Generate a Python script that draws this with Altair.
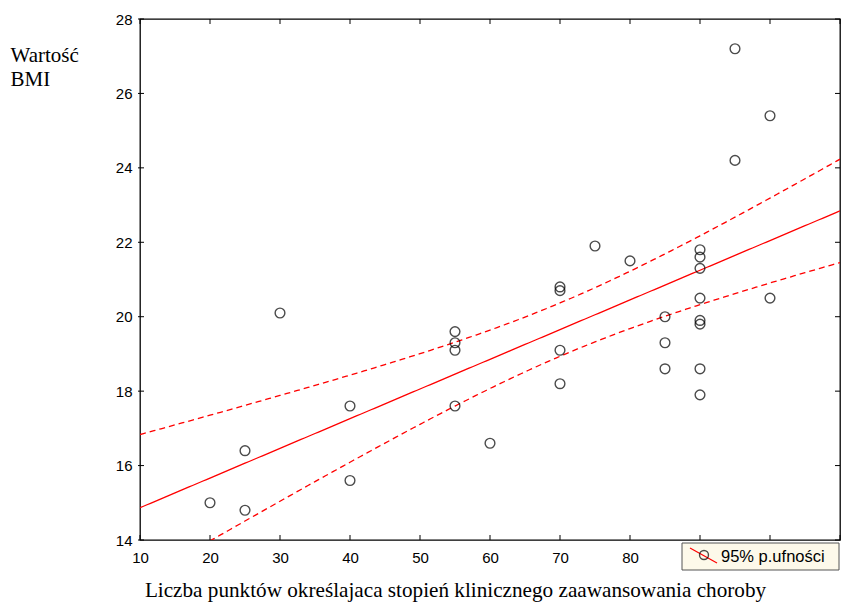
import altair as alt
import numpy as np
import pandas as pd

# ---- data ----
x_vals = [20, 25, 25, 30, 40, 40, 55, 55, 55, 55, 60, 70, 70, 70, 70, 75, 80,
          85, 85, 85, 90, 90, 90, 90, 90, 90, 90, 90, 95, 95, 100, 100]
y_vals = [15.0, 16.4, 14.8, 20.1, 17.6, 15.6, 19.6, 19.3, 19.1, 17.6, 16.6,
          20.8, 20.7, 19.1, 18.2, 21.9, 21.5, 20.0, 19.3, 18.6, 21.8, 21.6,
          21.3, 20.5, 19.9, 19.8, 18.6, 17.9, 27.2, 24.2, 25.4, 20.5]
x_ticks = [10, 20, 30, 40, 50, 60, 70, 80, 90, 100, 110]
x_labels = [10, 20, 30, 40, 50, 60, 70, 80]
y_ticks = [14, 16, 18, 20, 22, 24, 26, 28]
x_domain = [10, 110]
y_domain = [14, 28]
x_title = "Liczba punktów określajaca stopień klinicznego zaawansowania choroby"
y_title = ["Wartość", "BMI"]
legend_label = "95% p.ufności"
t_crit = 2.042  # t(0.975, df=30)

W, H = 700, 521

# ---- linear fit with 95% confidence band ----
xa = np.array(x_vals, dtype=float)
ya = np.array(y_vals, dtype=float)
n = len(xa)
b1, b0 = np.polyfit(xa, ya, 1)
resid = ya - (b0 + b1 * xa)
s = np.sqrt(np.sum(resid ** 2) / (n - 2))
sxx = np.sum((xa - xa.mean()) ** 2)
grid = np.linspace(x_domain[0], x_domain[1], 201)
fit = b0 + b1 * grid
se = s * np.sqrt(1.0 / n + (grid - xa.mean()) ** 2 / sxx)
fit_df = pd.DataFrame({"x": grid, "y": fit})
band_df = pd.concat([
    pd.DataFrame({"x": grid, "y": fit + t_crit * se, "band": "upper"}),
    pd.DataFrame({"x": grid, "y": fit - t_crit * se, "band": "lower"}),
])
pts = pd.DataFrame({"x": x_vals, "y": y_vals})

xs = alt.Scale(domain=x_domain, nice=False, zero=False)
ys = alt.Scale(domain=y_domain, nice=False, zero=False)

x_axis = alt.Axis(values=x_labels, ticks=False, domain=False, grid=False,
                  labelFlush=False,
                  labelFont="Liberation Sans", labelFontSize=15, labelColor="black",
                  labelPadding=10, title=x_title, titleFont="Liberation Serif",
                  titleFontSize=21.2, titleFontWeight="normal", titleColor="black",
                  titleX=315, titleY=56, titleAlign="center",
                  titleBaseline="alphabetic")
y_axis = alt.Axis(values=y_ticks, ticks=False, domain=False, grid=False,
                  labelFlush=False,
                  labelFont="Liberation Sans", labelFontSize=15, labelColor="black",
                  labelPadding=8, title=y_title, titleFont="Liberation Serif",
                  titleFontSize=21, titleFontWeight="normal", titleColor="black",
                  titleAngle=0, titleX=-130, titleY=42, titleAlign="left",
                  titleBaseline="alphabetic", titleLineHeight=24)

points = alt.Chart(pts).mark_point(
    shape="circle", filled=False, color="black", size=95, strokeWidth=1.4
).encode(
    x=alt.X("x:Q", scale=xs, axis=x_axis),
    y=alt.Y("y:Q", scale=ys, axis=y_axis),
)

fit_line = alt.Chart(fit_df).mark_line(color="#ff0000", strokeWidth=1.3, clip=True).encode(
    x=alt.X("x:Q", scale=xs), y=alt.Y("y:Q", scale=ys))

band_lines = alt.Chart(band_df).mark_line(
    color="#ff0000", strokeWidth=1.3, strokeDash=[6, 4], clip=True
).encode(x=alt.X("x:Q", scale=xs), y=alt.Y("y:Q", scale=ys), detail="band:N")

xt = pd.DataFrame({"v": x_ticks})
yt = pd.DataFrame({"v": y_ticks})
tick_style = dict(color="black", strokeWidth=1)
bottom_ticks = alt.Chart(xt).mark_rule(**tick_style).encode(
    x=alt.X("v:Q", scale=xs), y=alt.value(H), y2=alt.value(H - 5))
top_ticks = alt.Chart(xt).mark_rule(**tick_style).encode(
    x=alt.X("v:Q", scale=xs), y=alt.value(0), y2=alt.value(5))
left_ticks = alt.Chart(yt).mark_rule(**tick_style).encode(
    y=alt.Y("v:Q", scale=ys), x=alt.value(-2), x2=alt.value(4))
right_ticks = alt.Chart(yt).mark_rule(**tick_style).encode(
    y=alt.Y("v:Q", scale=ys), x=alt.value(W), x2=alt.value(W - 5))

one = pd.DataFrame({"a": [0]})
leg_box = alt.Chart(one).mark_rect(
    fill="#fdf9ea", stroke="#555555", strokeWidth=1, clip=False
).encode(x=alt.value(542), x2=alt.value(699), y=alt.value(524), y2=alt.value(551))
leg_line = alt.Chart(one).mark_rule(color="#ff0000", strokeWidth=1.2).encode(
    x=alt.value(550), x2=alt.value(577), y=alt.value(529), y2=alt.value(544))
leg_pt = alt.Chart(one).mark_point(
    shape="circle", filled=False, color="black", size=80, strokeWidth=1.4
).encode(x=alt.value(564), y=alt.value(536))
leg_txt = alt.Chart(one).mark_text(
    text=legend_label, align="left", baseline="alphabetic",
    font="Liberation Sans", fontSize=16.5, color="black"
).encode(x=alt.value(581), y=alt.value(543))

chart = alt.layer(
    band_lines, fit_line, points,
    bottom_ticks, top_ticks, left_ticks, right_ticks,
    leg_box, leg_line, leg_pt, leg_txt,
).properties(
    width=W, height=H,
    autosize=alt.AutoSizeParams(type="none"),
    padding={"left": 140, "top": 19, "right": 8, "bottom": 62},
    background="white",
).configure_view(stroke="black", strokeWidth=1.3)

chart.save("out.html", embed_options={"renderer": "svg", "actions": False})
